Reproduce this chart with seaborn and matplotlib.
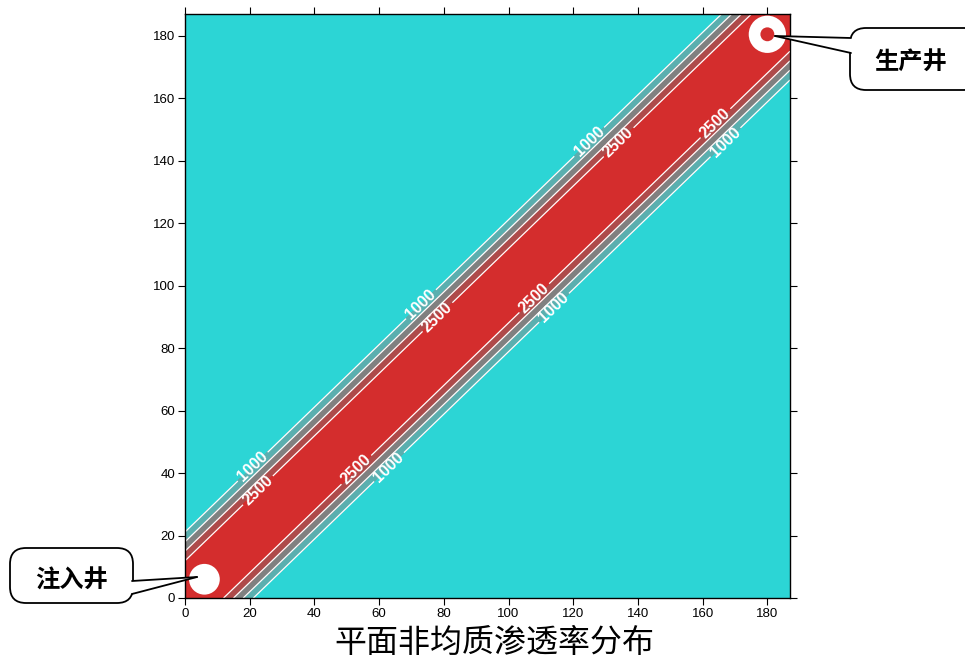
import numpy as np
import matplotlib
matplotlib.use("Agg")
import matplotlib.pyplot as plt
import seaborn as sns
from matplotlib.patches import FancyBboxPatch, Polygon
from matplotlib.lines import Line2D

# ---------------- data ----------------
# permeability profile across the high-permeability channel (distance |x-y| -> value)
band_offset = [0, 12, 15, 18, 21, 40, 200]
band_perm = [3000, 2500, 2000, 1500, 1000, 500, 500]
grid_max = 187

fill_levels = [0, 1000, 1500, 2000, 2500, 4000]
plain_levels = [1500, 2000]
label_levels = [1000, 2500]
fill_colors = ["#2CD5D5", "#5AAFAF", "#808080", "#AE4A4A", "#D42D2D"]

label_pos = [(21, 42), (73, 94), (125, 146),       # 1000 upper
             (22.5, 34.5), (78, 90), (134, 146),   # 2500 upper
             (53, 41), (108, 96), (164, 152),      # 2500 lower
             (63, 42), (114, 93), (167, 146)]      # 1000 lower

inj_x, inj_y = [6], [6]
prod_x, prod_y = [180], [180.5]

xticks = [0, 20, 40, 60, 80, 100, 120, 140, 160, 180]
yticks = [0, 20, 40, 60, 80, 100, 120, 140, 160, 180]

xlabel = "平面非均质渗透率分布"
inj_label = "注入井"
prod_label = "生产井"

# ---------------- style ----------------
sns.set_style("ticks")
plt.rcParams["font.family"] = ["Liberation Sans", "Noto Sans CJK SC", "DejaVu Sans"]
plt.rcParams["text.color"] = "black"
plt.rcParams["axes.labelcolor"] = "black"
cjk = ["Noto Sans CJK SC", "DejaVu Sans"]

W, H = 965, 659
fig = plt.figure(figsize=(W / 100, H / 100), dpi=100)
ax = fig.add_axes([185 / W, (H - 598) / H, (790 - 185) / W, (598 - 14) / H])

g = np.linspace(0, grid_max, 600)
X, Y = np.meshgrid(g, g)
Z = np.interp(np.abs(X - Y), band_offset, band_perm)

ax.contourf(X, Y, Z, levels=fill_levels, colors=fill_colors)
ax.contour(X, Y, Z, levels=plain_levels, colors="white", linewidths=0.9)
cs = ax.contour(X, Y, Z, levels=label_levels, colors="white", linewidths=0.9)
lbls = ax.clabel(cs, manual=label_pos, fmt="%d",
                 colors="white", fontsize=11.5, inline=True, inline_spacing=3)
for t in lbls:
    t.set_fontweight("bold")

# wells
sns.scatterplot(x=inj_x, y=inj_y, ax=ax, s=490, color="white", edgecolor="none",
                legend=False, zorder=5)
sns.scatterplot(x=prod_x, y=prod_y, ax=ax, s=720, color="white", edgecolor="none",
                legend=False, zorder=5)
sns.scatterplot(x=prod_x, y=prod_y, ax=ax, s=100, color="#D42D2D", edgecolor="none",
                legend=False, zorder=6)

ax.set_xlim(0, grid_max)
ax.set_ylim(0, grid_max)
ax.set_xticks(xticks)
ax.set_yticks(yticks)
ax.tick_params(axis="both", direction="out", length=5, width=0.8, labelsize=9.5,
               color="black", labelcolor="black", top=True, right=True,
               labeltop=False, labelright=False, pad=2)
for s in ax.spines.values():
    s.set_color("black")
    s.set_linewidth(1.0)
ax.set_xlabel(xlabel, fontsize=23, family=cjk, labelpad=5, color="black")
ax.xaxis.label.set_position((0.512, 0))


# ---------------- callouts (figure pixel layout -> inches) ----------------
def px(x, y):
    return (x / 100, (H - y) / 100)


def callout(box, base1, base2, tip, text, tcenter):
    x0, y0, x1, y1 = box
    bx, by = px(x0, y1)
    patch = FancyBboxPatch((bx, by), (x1 - x0) / 100, (y1 - y0) / 100,
                           boxstyle="round,pad=0,rounding_size=0.16",
                           transform=fig.dpi_scale_trans, fc="white", ec="black",
                           lw=1.3, zorder=10, clip_on=False)
    fig.add_artist(patch)
    p1, p2, pt = px(*base1), px(*base2), px(*tip)
    dx = -0.03 if base1[0] < tip[0] else 0.03
    poly = Polygon([(p1[0] + dx, p1[1]), pt, (p2[0] + dx, p2[1])], closed=True,
                   fc="white", ec="none", transform=fig.dpi_scale_trans,
                   zorder=11, clip_on=False)
    fig.add_artist(poly)
    for p in (p1, p2):
        fig.add_artist(Line2D([p[0], pt[0]], [p[1], pt[1]], color="black", lw=1.3,
                              transform=fig.dpi_scale_trans, zorder=12,
                              solid_capstyle="round"))
    tx, ty = px(*tcenter)
    fig.text(tx, ty, text, transform=fig.dpi_scale_trans, ha="center", va="center",
             fontsize=17.5, fontweight="bold", family=cjk, color="black", zorder=13)


callout((10, 548, 133, 603), (132, 581), (132, 594), (197, 577), inj_label, (71, 581))
callout((850, 28, 980, 90), (851, 38), (851, 53), (775, 36), prod_label, (911, 62))

fig.savefig("out.png", dpi=100)
